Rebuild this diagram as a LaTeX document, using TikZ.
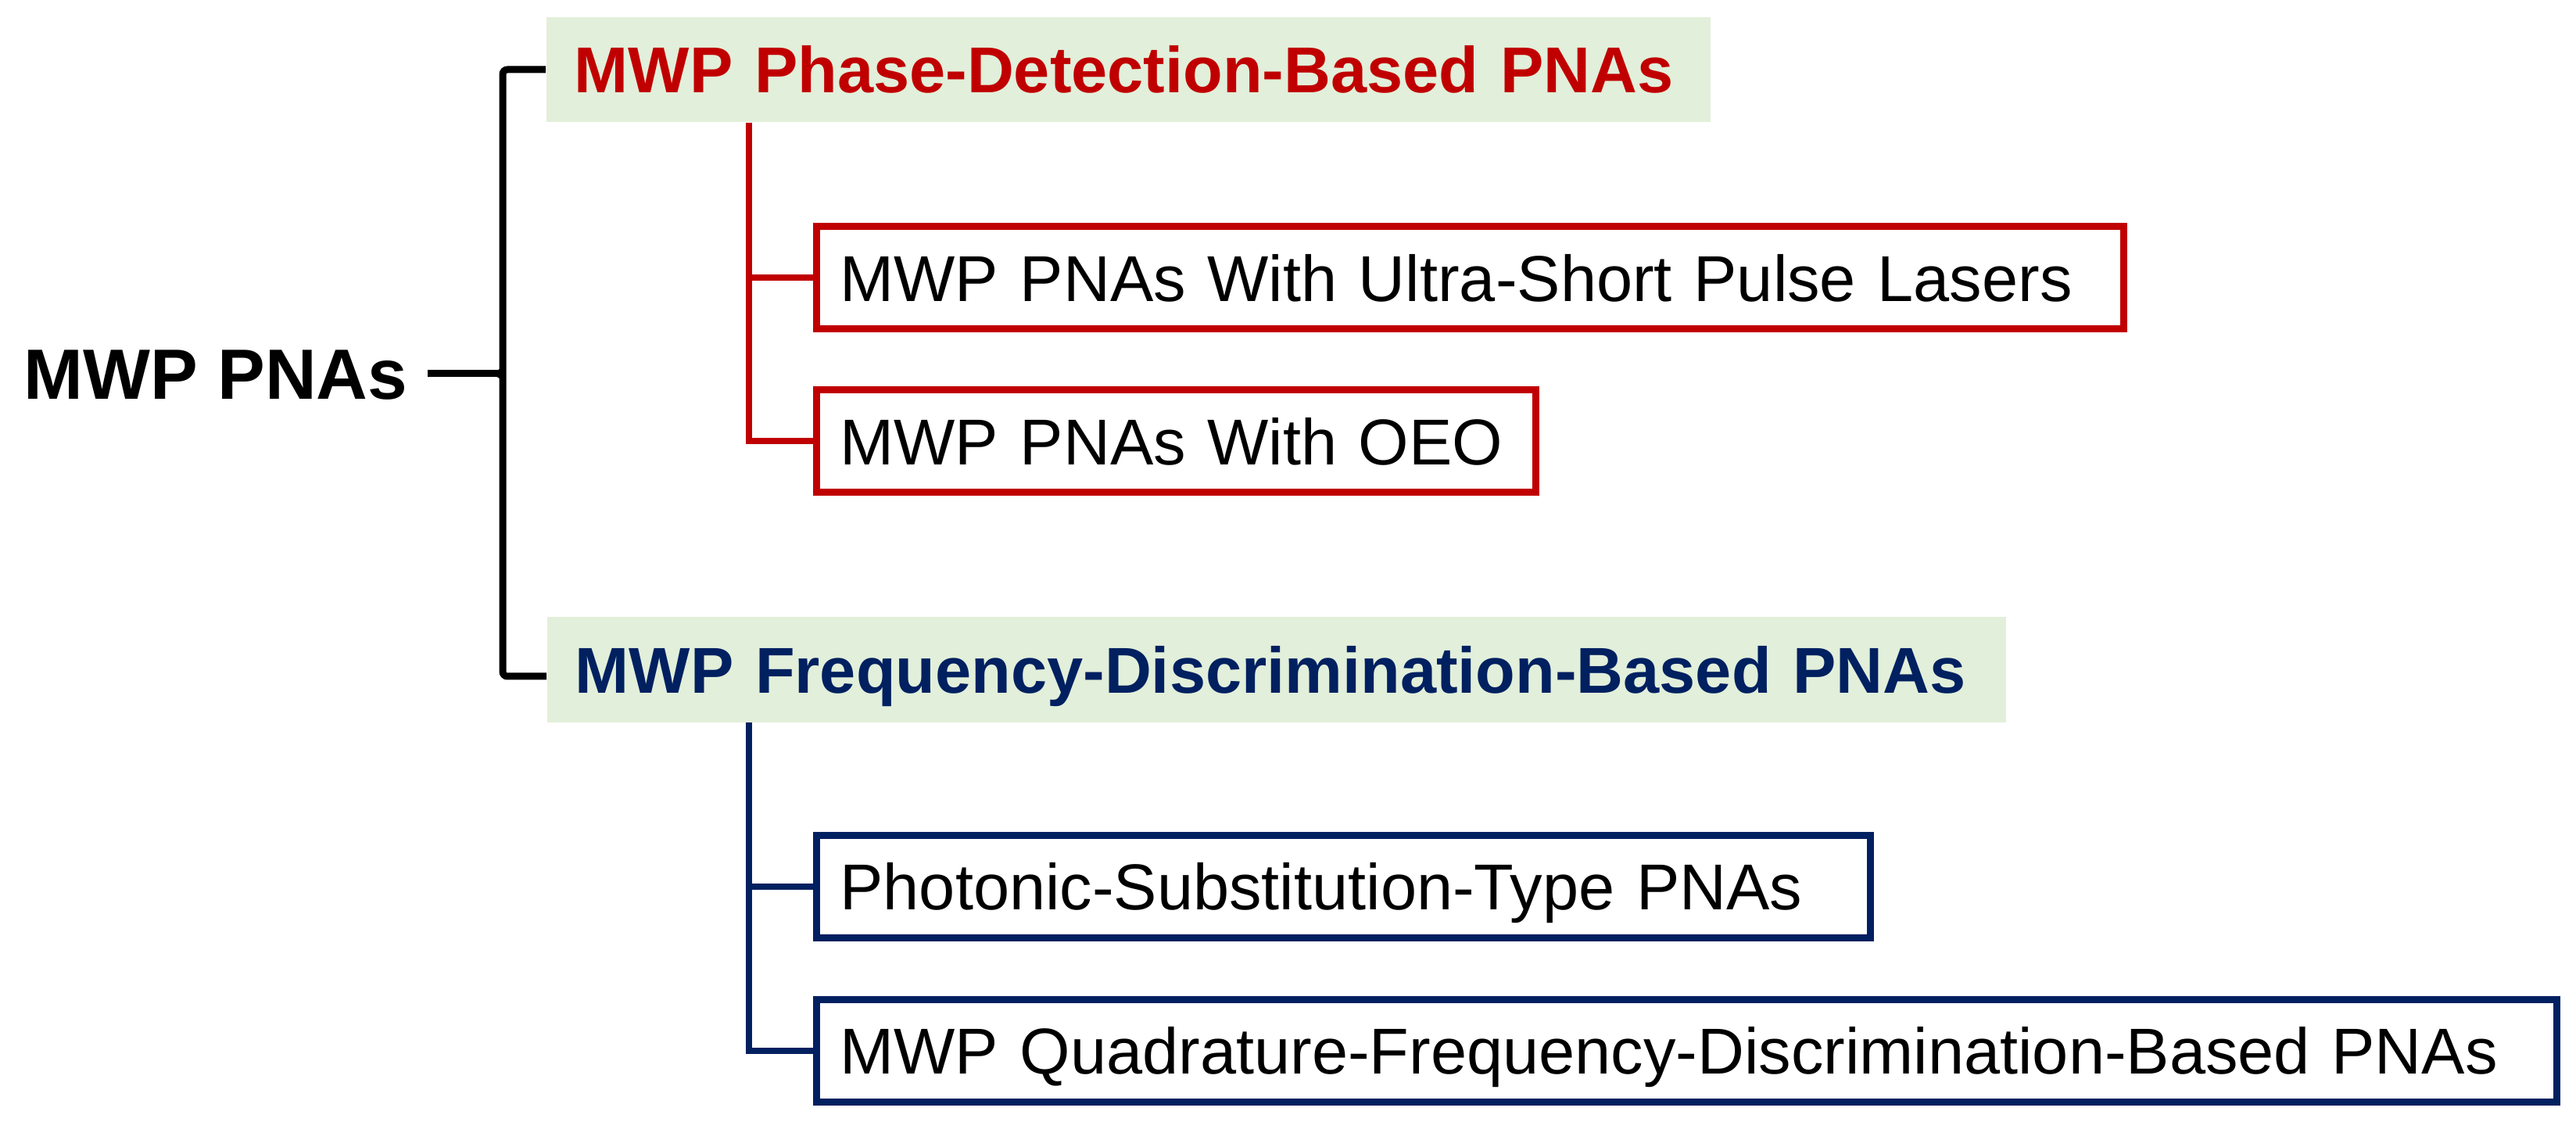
\documentclass[tikz,border=0pt]{standalone}
\usepackage{fontspec}
\setmainfont{Liberation Sans}
\usepackage{xcolor}
\usepackage{tikz}
\usetikzlibrary{positioning}

\definecolor{hgreen}{RGB}{226,239,218}
\definecolor{hred}{RGB}{192,0,0}
\definecolor{hblue}{RGB}{0,32,96}

\begin{document}
\begin{tikzpicture}[
    head/.style={
        fill=hgreen,
        anchor=west,
        inner xsep=0.36cm,
        minimum height=1.34cm,
        text height=16.9pt,
        text depth=0pt,
        align=left,
        font=\bfseries\fontsize{23.6}{28}\selectfont,
    },
    leaf/.style={
        draw=#1,
        line width=0.09cm,
        anchor=west,
        inner xsep=0.30cm,
        minimum height=1.31cm,
        text height=16.9pt,
        text depth=0pt,
        align=left,
        font=\fontsize{23.6}{28}\selectfont,
    },
    link/.style={draw=#1, line width=0.08cm},
    brace/.style={line width=0.09cm, rounded corners=0.06cm},
]
\useasboundingbox (0,0) rectangle (32.95,-14.35);

% ----- Root -----
\node[font=\bfseries\fontsize{25.9}{30}\selectfont, inner xsep=0.25cm, inner ysep=0pt,
      text height=18.5pt, text depth=0pt, anchor=east] (root) at (5.47,-4.78) {MWP PNAs};

% ----- Headers -----
\node[head, text=hred, text width=14.17cm] (phase) at (6.98,-0.89) {MWP Phase-Detection-Based PNAs};
\node[head, text=hblue, text width=17.94cm] (freq) at (6.99,-8.565) {MWP Frequency-Discrimination-Based PNAs};

% ----- Leaves -----
\node[leaf=hred, text width=16.12cm] (pulse) at (10.40,-3.555) {MWP PNAs With Ultra-Short Pulse Lasers};
\node[leaf=hred, text width=8.60cm, below=0.69cm of pulse.south west, anchor=north west] (oeo) {MWP PNAs With OEO};
\node[leaf=hblue, text width=12.88cm] (subst) at (10.40,-11.34) {Photonic-Substitution-Type PNAs};
\node[leaf=hblue, text width=21.66cm, below=0.70cm of subst.south west, anchor=north west] (quad) {MWP Quadrature-Frequency-Discrimination-Based PNAs};

% ----- Brace -----
\coordinate (tip) at (6.43,-4.78);
\coordinate (braceend) at (6.43,-8.65);
\draw[brace] (phase.west) -- (phase.west -| tip) -- (braceend) -- (braceend -| freq.west);
\draw[line width=0.09cm] (root) -- (tip);
\draw[line width=0.05cm] ([xshift=-0.22cm]tip) to[out=0,in=-90] ([yshift=0.1cm]tip);
\draw[line width=0.05cm] ([xshift=-0.22cm]tip) to[out=0,in=90] ([yshift=-0.1cm]tip);

% ----- Links -----
\draw[link=hred] ([xshift=2.6cm]phase.south west) |- (pulse.west);
\draw[link=hred] ([xshift=2.6cm]phase.south west) |- (oeo.west);
\draw[link=hblue] ([xshift=2.59cm]freq.south west) |- (subst.west);
\draw[link=hblue] ([xshift=2.59cm]freq.south west) |- (quad.west);

\end{tikzpicture}
\end{document}
